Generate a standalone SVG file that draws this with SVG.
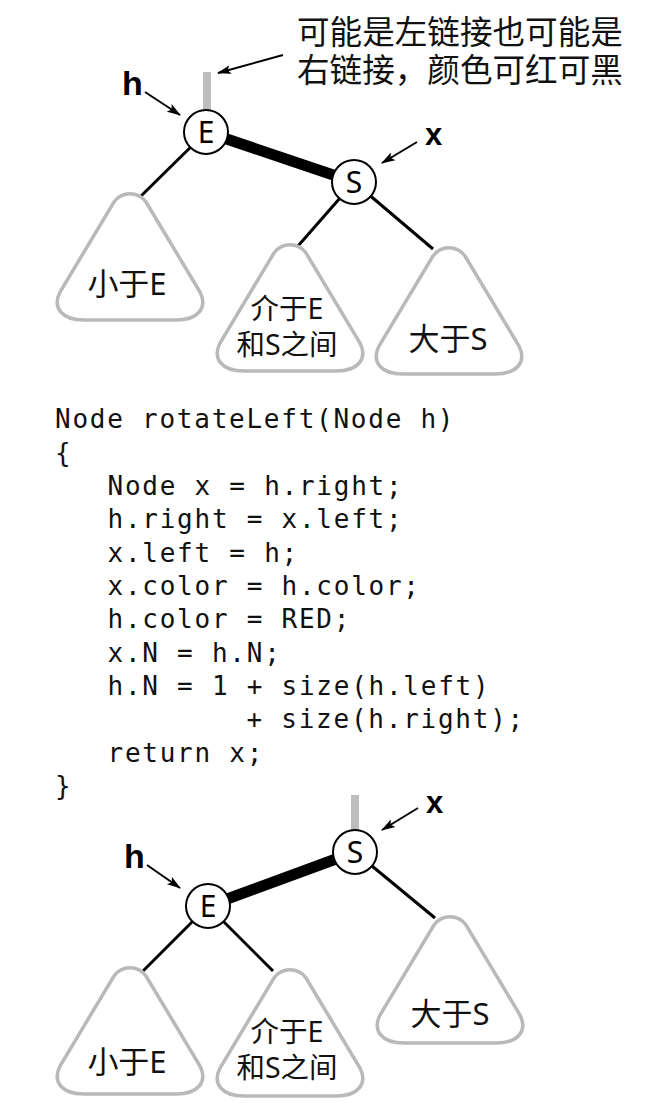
<svg xmlns="http://www.w3.org/2000/svg" width="654" height="1120" viewBox="0 0 654 1120">
<style>
.bg{fill:#fff}
.node circle{fill:#fff;stroke:#000;stroke-width:2}
.node text{font-family:"Noto Sans","Liberation Sans",sans-serif;font-size:30px;text-anchor:middle;fill:#000}
.sub path,.sub use{fill:#fff;stroke:#b9b9b9;stroke-width:3.5}
.sub text{font-family:"Noto Sans","Noto Sans CJK SC",sans-serif;text-anchor:middle;fill:#111}
.link{stroke:#000;stroke-width:3;fill:none}
.red{stroke:#000;stroke-width:11;fill:none}
.stub{stroke:#bdbdbd;stroke-width:8;fill:none}
.ptr{stroke:#000;stroke-width:2;fill:none;marker-end:url(#ah)}
.lbl{font-family:"Liberation Sans","Noto Sans",sans-serif;font-weight:bold;fill:#000}
.note{font-family:"Noto Sans CJK SC",sans-serif;font-size:32.6px;fill:#111}
.code{font-family:"DejaVu Sans Mono",monospace;font-size:26px;letter-spacing:1.75px;fill:#111}
</style>
<defs>
<marker id="ah" markerWidth="14" markerHeight="10" refX="13" refY="5" orient="auto" markerUnits="userSpaceOnUse">
<path d="M0,0.5 L14,5 L0,9.5 L3,5 Z" fill="#000"/>
</marker>
<path id="tri" d="M-16,10 C-8,-1 8,-1 16,10 L70,100 C78,116 68,128 46,128 L-46,128 C-68,128 -78,116 -70,100 Z"/>
</defs>
<rect class="bg" x="0" y="0" width="654" height="1120"/>

<g id="note">
<text class="note" x="297" y="44"><tspan x="297" y="44">可能是左链接也可能是</tspan><tspan x="297" y="82">右链接，颜色可红可黑</tspan></text>
</g>

<g id="connectors">
<line class="stub" x1="207" y1="72" x2="207" y2="112"/>
<line class="red" x1="206" y1="132" x2="354" y2="182"/>
<line class="link" x1="206" y1="132" x2="140" y2="197"/>
<line class="link" x1="354" y1="182" x2="298" y2="246"/>
<line class="link" x1="354" y1="182" x2="433" y2="249"/>
<line class="ptr" x1="283" y1="55" x2="218" y2="73"/>
<line class="ptr" x1="145" y1="92" x2="180" y2="115"/>
<line class="ptr" x1="417" y1="142" x2="382" y2="163"/>
<line class="stub" x1="355" y1="795" x2="355" y2="832"/>
<line class="red" x1="208" y1="906" x2="355" y2="852"/>
<line class="link" x1="208" y1="906" x2="143" y2="971"/>
<line class="link" x1="208" y1="906" x2="273" y2="971"/>
<line class="link" x1="355" y1="852" x2="435" y2="918"/>
<line class="ptr" x1="418" y1="808" x2="382" y2="830"/>
<line class="ptr" x1="147" y1="865" x2="180" y2="888"/>
</g>

<g id="labels">
<text class="lbl" x="122" y="95" font-size="34">h</text>
<text class="lbl" x="425" y="145" font-size="31">x</text>
<text class="lbl" x="124" y="868" font-size="34">h</text>
<text class="lbl" x="426" y="813" font-size="31">x</text>
</g>

<g id="nodeE1" class="node"><circle cx="206" cy="132" r="22"/><text x="206" y="142.5">E</text></g>
<g id="nodeS1" class="node"><circle cx="354" cy="182" r="22"/><text x="354" y="192.5">S</text></g>
<g id="sub1a" class="sub"><use href="#tri" transform="translate(130,192)"/><text x="127" y="295" font-size="31">小于E</text></g>
<g id="sub1b" class="sub"><use href="#tri" transform="translate(290,243)"/><text x="287" y="319" font-size="28.5">介于E</text><text x="287" y="355" font-size="28.5">和S之间</text></g>
<g id="sub1c" class="sub"><use href="#tri" transform="translate(449,246)"/><text x="448" y="350" font-size="31">大于S</text></g>

<g id="code">
<text class="code" x="55" y="428">Node rotateLeft(Node h)</text>
<text class="code" x="55" y="462">{</text>
<text class="code" x="107.5" y="495">Node x = h.right;</text>
<text class="code" x="107.5" y="528">h.right = x.left;</text>
<text class="code" x="107.5" y="562">x.left = h;</text>
<text class="code" x="107.5" y="595">x.color = h.color;</text>
<text class="code" x="107.5" y="628">h.color = RED;</text>
<text class="code" x="107.5" y="662">x.N = h.N;</text>
<text class="code" x="107.5" y="695">h.N = 1 + size(h.left)</text>
<text class="code" x="246.5" y="728">+ size(h.right);</text>
<text class="code" x="107.5" y="762">return x;</text>
<text class="code" x="55" y="795">}</text>
</g>

<g id="nodeS2" class="node"><circle cx="355" cy="852" r="22"/><text x="355" y="862.5">S</text></g>
<g id="nodeE2" class="node"><circle cx="208" cy="906" r="22"/><text x="208" y="916.5">E</text></g>
<g id="sub2a" class="sub"><use href="#tri" transform="translate(130,966)"/><text x="127" y="1073" font-size="31">小于E</text></g>
<g id="sub2b" class="sub"><use href="#tri" transform="translate(290,968)"/><text x="287" y="1042" font-size="28.5">介于E</text><text x="287" y="1078" font-size="28.5">和S之间</text></g>
<g id="sub2c" class="sub"><use href="#tri" transform="translate(450,915)"/><text x="450" y="1025" font-size="31">大于S</text></g>
</svg>
